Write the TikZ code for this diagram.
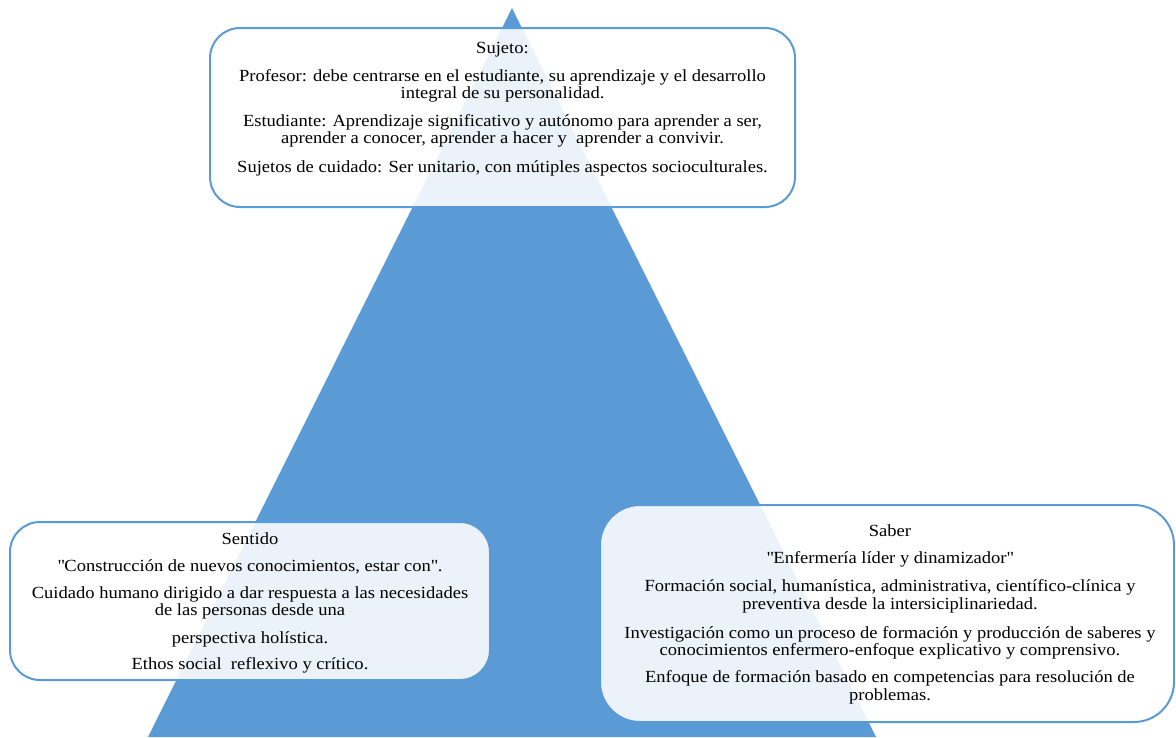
\documentclass[tikz,border=0pt]{standalone}
\usepackage{fontspec}
\setmainfont{Liberation Serif}[FakeStretch=1.09]
\definecolor{officeblue}{HTML}{5B9BD5}
\newcommand{\dq}{\textquotedbl}
\begin{document}
\begin{tikzpicture}[x=1pt,y=-1pt,
  panel/.style={draw=officeblue, line width=2pt, fill=white, fill opacity=0.88,
    rounded corners=#1, inner sep=0pt},
  panel/.default=30pt,
  txt/.style={align=center, inner sep=0pt, text=black,
    font=\fontsize{17}{17.5}\selectfont}
]
\useasboundingbox (0,0) rectangle (1176,737);
% central pyramid
\fill[officeblue] (512,8) coordinate (apex) -- (148,737) -- (876,737) -- cycle;

% Sujeto panel (top)
\node[panel, minimum width=585pt, minimum height=179pt] (sujeto) at (502.5,117.5) {};
\node[txt, anchor=north] (sujetotext) at (502.5,42) {%
  Sujeto:\\[10.5pt]
  Profesor: debe centrarse en el estudiante, su aprendizaje y el desarrollo\\
  integral de su personalidad.\\[10pt]
  Estudiante: Aprendizaje significativo y autónomo para aprender a ser,\\
  aprender a conocer, aprender a hacer y\ \ aprender a convivir.\\[11pt]
  Sujetos de cuidado: Ser unitario, con mútiples aspectos socioculturales.};

% Sentido panel (bottom left)
\node[panel, minimum width=480pt, minimum height=158pt] (sentido) at (250,601) {};
\node[txt, anchor=north] (sentidotext) at (250,532) {%
  Sentido\\[9.5pt]
  \dq Construcción de nuevos conocimientos, estar con\dq.\\[9.5pt]
  Cuidado humano dirigido a dar respuesta a las necesidades\\
  de las personas desde una\\[10.5pt]
  perspectiva holística.\\[8.5pt]
  Ethos social\ \ reflexivo y crítico.};

% Saber panel (bottom right)
\node[panel=40pt, minimum width=574pt, minimum height=217pt] (saber) at (887,613.5) {};
\node[txt, anchor=north] (sabertext) at (890,524.5) {%
  Saber\\[9pt]
  \dq Enfermería líder y dinamizador\dq\\[11pt]
  Formación social, humanística, administrativa, científico-clínica y\\
  preventiva desde la intersiciplinariedad.\\[11.5pt]
  Investigación como un proceso de formación y producción de saberes y\\
  conocimientos enfermero-enfoque explicativo y comprensivo.\\[9.5pt]
  Enfoque de formación basado en competencias para resolución de\\[0.5pt]
  problemas.};
\end{tikzpicture}
\end{document}
